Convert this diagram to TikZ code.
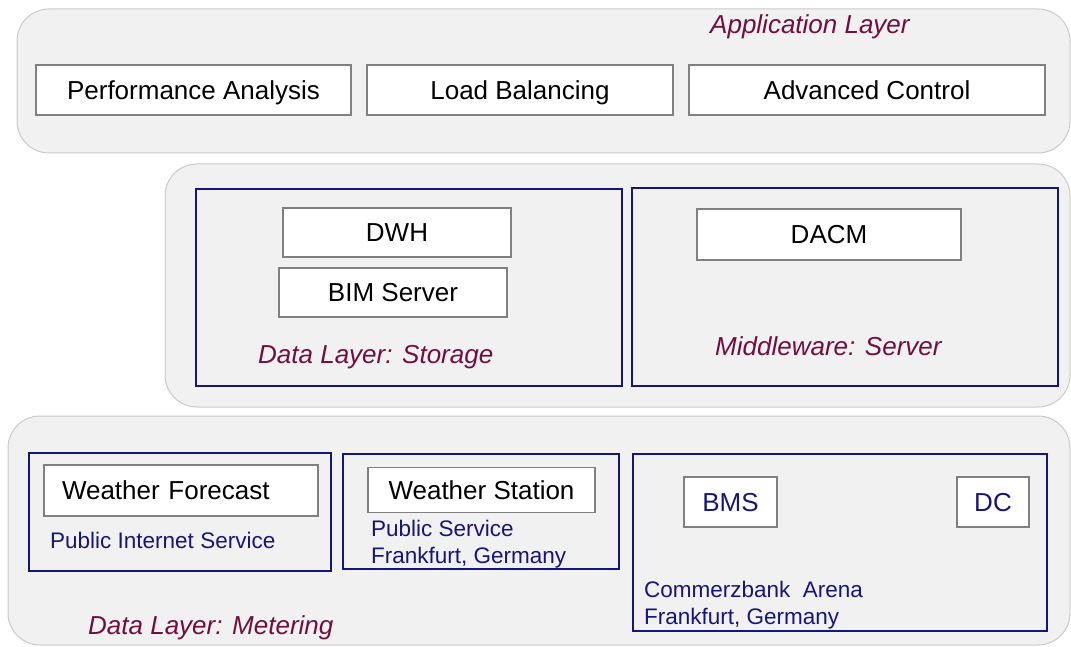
\documentclass[tikz,border=0pt]{standalone}
\usepackage{fontspec}
\setmainfont{Liberation Sans}
\definecolor{layergray}{RGB}{241,241,241}
\definecolor{layerline}{RGB}{202,202,202}
\definecolor{framenavy}{RGB}{22,22,120}
\definecolor{boxline}{RGB}{128,128,128}
\definecolor{labelred}{RGB}{112,16,64}
\tikzset{
  layer/.style={fill=layergray, draw=layerline, line width=1pt, rounded corners=32pt},
  frame/.style={draw=framenavy, line width=2pt},
  box/.style={draw=boxline, fill=white, line width=1.5pt, minimum height=50pt,
    text height=18.6pt, text depth=0pt, font=\fontsize{26}{31}\selectfont},
  title/.style={text=labelred, font=\fontsize{26}{31}\selectfont\itshape,
    anchor=base west, inner sep=0pt},
  site/.style={text=framenavy, font=\fontsize{22.5}{26.5}\selectfont,
    anchor=base west, align=left, inner sep=0pt},
}
\begin{document}
\begin{tikzpicture}[x=1pt,y=-1pt]
    \useasboundingbox (0,0) rectangle (1071,647);
    % application layer
    \draw[layer] (17,9) rectangle (1070,153);
    \node[title] (applabel) at (710,34) {Application Layer};
    \node[box, minimum width=315pt] (perf) at (193.5,90) {Performance Analysis};
    \node[box, minimum width=306pt] (load) at (520,90) {Load Balancing};
    \node[box, minimum width=356pt] (adv) at (867,90) {Advanced Control};
    % storage and middleware layer
    \draw[layer] (165,164) rectangle (1070,407);
    \draw[frame] (196,189) rectangle (622,386);
    \draw[frame] (632,188) rectangle (1058,386);
    \node[box, minimum width=228pt, minimum height=49pt] (dwh) at (397,232.5) {DWH};
    \node[box, minimum width=228pt, minimum height=49pt] (bim) at (393,292.5) {BIM Server};
    \node[box, minimum width=264pt, minimum height=51pt] (dacm) at (829,234.5) {DACM};
    \node[title] (storagelabel) at (258,363) {Data Layer: Storage};
    \node[title] (serverlabel) at (715,355) {Middleware: Server};
    % metering layer (base of a two-line label is its last line)
    \draw[layer] (8,416) rectangle (1070,645);
    \draw[frame] (29,453) rectangle (331,571);
    \draw[frame] (343,454) rectangle (619,569);
    \draw[frame] (633,454) rectangle (1047,631);
    \node[box, minimum width=274pt, minimum height=51pt, inner xsep=18pt,
      text width=238pt, align=left] (forecast) at (181,490.5) {Weather Forecast};
    \node[site] (forecastsite) at (50,548) {Public Internet Service};
    \node[box, minimum width=227pt, minimum height=45pt] (station) at (481.5,490) {Weather Station};
    \node[site] (stationsite) at (371,563) {Public Service\\Frankfurt, Germany};
    \node[box, minimum width=93pt, text=framenavy] (bms) at (730.5,502) {BMS};
    \node[box, minimum width=72pt, text=framenavy] (dc) at (993,502) {DC};
    \node[site] (arenasite) at (644,624) {Commerzbank~ Arena\\Frankfurt, Germany};
    \node[title] (meteringlabel) at (88,634) {Data Layer: Metering};
\end{tikzpicture}
\end{document}
